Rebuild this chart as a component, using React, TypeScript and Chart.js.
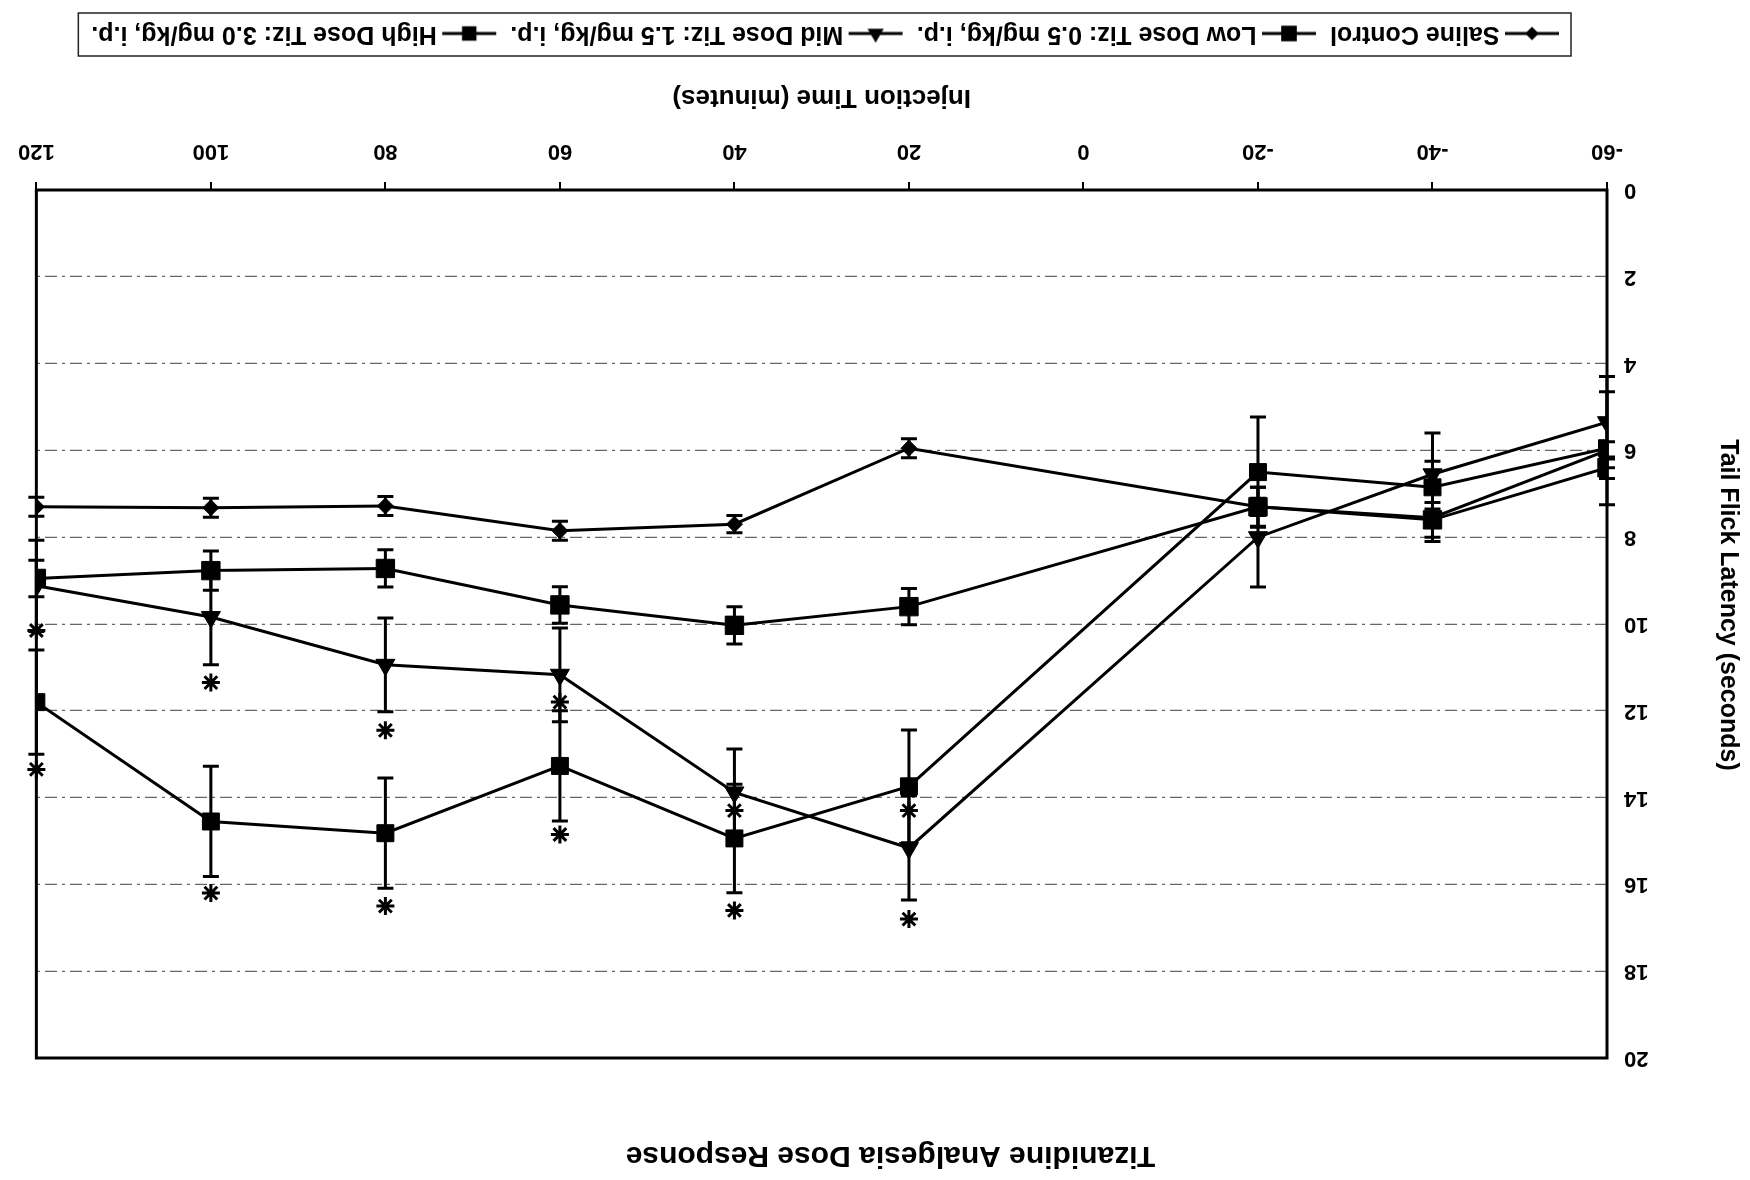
import React, { useEffect, useRef } from "react";
import { Chart, registerables } from "chart.js";

Chart.register(...registerables);

// ---- data ----
const injectionTimes = [-60, -40, -20, 20, 40, 60, 80, 100, 120];

const salineMeans = [6.0, 7.55, 7.3, 5.95, 7.7, 7.85, 7.28, 7.32, 7.3];
const salineErrors = [0.2, 0.2, 0.2, 0.22, 0.2, 0.22, 0.22, 0.22, 0.22];

const lowMeans = [6.4, 7.6, 7.3, 9.6, 10.03, 9.56, 8.72, 8.77, 8.95];
const lowErrors = [0.25, 0.4, 0.45, 0.42, 0.43, 0.42, 0.43, 0.45, 0.42];

const midMeans = [5.35, 6.55, 8.0, 15.16, 13.88, 11.17, 10.94, 9.84, 9.12];
const midErrors = [1.05, 0.3, 1.15, 1.2, 1.0, 1.08, 1.08, 1.1, 1.05];

const highMeans = [5.95, 6.85, 6.5, 13.74, 14.94, 13.27, 14.82, 14.55, 11.8];
const highErrors = [1.3, 1.25, 1.27, 1.3, 1.25, 1.27, 1.27, 1.27, 1.2];

const starTimes = [20, 40, 60, 80, 100, 120];
const midStars = [14.3, 14.3, 11.8, 12.45, 11.35, 10.15];
const highStars = [16.8, 16.6, 14.85, 16.5, 16.2, 13.35];

const seriesLabels = [
  "Saline Control",
  "Low Dose Tiz: 0.5 mg/kg, i.p.",
  "Mid Dose Tiz: 1.5 mg/kg, i.p.",
  "High Dose Tiz: 3.0 mg/kg, i.p.",
];
const seriesMarkers = ["rectRot", "rect", "triangle", "rect"];
const seriesRadii = [8, 13, 11, 12];

const xMin = -60;
const xMax = 120;
const xStep = 20;
const yMin = 0;
const yMax = 20;
const yStep = 2;

const chartTitle = "Tizanidine Analgesia Dose Response";
const xTitle = "Injection Time (minutes)";
const yTitle = "Tail Flick Latency (seconds)";

const FONT = "'Liberation Sans', Arial, Helvetica, sans-serif";

function drawMarker(g: CanvasRenderingContext2D, style: string, r: number, cx: number, cy: number) {
  g.beginPath();
  if (style === "rect") {
    const s = Math.SQRT1_2 * r;
    g.rect(cx - s, cy - s, 2 * s, 2 * s);
  } else if (style === "rectRot") {
    g.moveTo(cx - r, cy);
    g.lineTo(cx, cy - r);
    g.lineTo(cx + r, cy);
    g.lineTo(cx, cy + r);
    g.closePath();
  } else if (style === "triangle") {
    const a = (2 * Math.PI) / 3;
    g.moveTo(cx, cy - r);
    g.lineTo(cx + Math.sin(a) * r, cy - Math.cos(a) * r);
    g.lineTo(cx + Math.sin(2 * a) * r, cy - Math.cos(2 * a) * r);
    g.closePath();
  }
  g.fill();
}

const ICON_W = 58;

function makeIcon(style: string, r: number) {
  const c = document.createElement("canvas");
  c.width = ICON_W;
  c.height = 28;
  const g = c.getContext("2d")!;
  g.strokeStyle = "#000";
  g.fillStyle = "#000";
  g.lineWidth = 3;
  g.beginPath();
  g.moveTo(2, 14);
  g.lineTo(ICON_W - 2, 14);
  g.stroke();
  drawMarker(g, style, r * 0.85, ICON_W / 2, 14);
  return c;
}

const errorSets = [salineErrors, lowErrors, midErrors, highErrors];

const errorBarPlugin = {
  id: "errorBars",
  beforeDatasetsDraw(chart: any) {
    const { ctx } = chart;
    const xs = chart.scales.x;
    const ys = chart.scales.y;
    ctx.save();
    ctx.strokeStyle = "#000";
    ctx.lineWidth = 3;
    errorSets.forEach((errs, di) => {
      const ds = chart.data.datasets[di];
      ds.data.forEach((pt: any, i: number) => {
        const e = errs[i];
        const px = xs.getPixelForValue(pt.x);
        const y1 = ys.getPixelForValue(pt.y - e);
        const y2 = ys.getPixelForValue(pt.y + e);
        ctx.beginPath();
        ctx.moveTo(px, y1);
        ctx.lineTo(px, y2);
        ctx.moveTo(px - 8, y1);
        ctx.lineTo(px + 8, y1);
        ctx.moveTo(px - 8, y2);
        ctx.lineTo(px + 8, y2);
        ctx.stroke();
      });
    });
    ctx.restore();
  },
};

const framePlugin = {
  id: "frame",
  afterDatasetsDraw(chart: any) {
    const { ctx, chartArea: a } = chart;
    ctx.save();
    ctx.strokeStyle = "#000";
    ctx.lineWidth = 3;
    ctx.strokeRect(a.left, a.top, a.right - a.left, a.bottom - a.top);
    ctx.restore();
  },
  afterDraw(chart: any) {
    const { ctx, chartArea: a } = chart;
    // y-axis title
    ctx.save();
    ctx.fillStyle = "#000";
    ctx.font = "bold 25px " + FONT;
    ctx.textAlign = "center";
    ctx.textBaseline = "middle";
    ctx.translate(22, (a.top + a.bottom) / 2 + 19);
    ctx.rotate(-Math.PI / 2);
    ctx.fillText(yTitle, 0, 0);
    ctx.restore();

    const lg = chart.legend;
    if (!lg || !lg.legendHitBoxes || !lg.legendHitBoxes.length) return;
    const boxes = lg.legendHitBoxes;
    let minX = Infinity;
    let maxX = -Infinity;
    boxes.forEach((b: any) => {
      minX = Math.min(minX, b.left);
      maxX = Math.max(maxX, b.left + b.width);
    });
    ctx.save();
    ctx.strokeStyle = "#222";
    ctx.lineWidth = 1.5;
    ctx.strokeRect(minX - 19, lg.top + 11, maxX - minX + 32, 43);
    ctx.restore();
  },
};

export default function App() {
  const ref = useRef<HTMLCanvasElement | null>(null);

  useEffect(() => {
    if (!ref.current) return;
    const means = [salineMeans, lowMeans, midMeans, highMeans];
    const icons = seriesMarkers.map((m, i) => makeIcon(m, seriesRadii[i]));

    const datasets: any[] = means.map((arr, i) => ({
      type: "line",
      label: seriesLabels[i],
      data: injectionTimes.map((t, j) => ({ x: t, y: arr[j] })),
      borderColor: "#000",
      backgroundColor: "#000",
      borderWidth: 3,
      pointStyle: seriesMarkers[i],
      pointRadius: seriesRadii[i],
      pointBackgroundColor: "#000",
      pointBorderColor: "#000",
      pointBorderWidth: 1,
      tension: 0,
      fill: false,
    }));
    [midStars, highStars].forEach((arr, k) => {
      datasets.push({
        type: "scatter",
        label: "sig" + k,
        data: starTimes.map((t, j) => ({ x: t, y: arr[j] })),
        showLine: false,
        pointStyle: "star",
        pointRadius: 9,
        pointBorderWidth: 3,
        pointBorderColor: "#000",
        pointBackgroundColor: "#000",
        clip: false,
      });
    });

    const chart = new Chart(ref.current, {
      type: "line",
      data: { datasets },
      plugins: [errorBarPlugin, framePlugin],
      options: {
        responsive: false,
        maintainAspectRatio: false,
        animation: false,
        devicePixelRatio: 1,
        layout: { padding: { left: 0, right: 31, top: 0, bottom: 11 } },
        plugins: {
          tooltip: { enabled: false },
          title: {
            display: true,
            text: chartTitle,
            color: "#000",
            font: { family: FONT, size: 30, weight: "bold" },
            padding: { top: 7, bottom: 79 },
          },
          legend: {
            display: true,
            position: "bottom",
            fullSize: false,
            labels: {
              color: "#000",
              font: { family: FONT, size: 25, weight: "bold" },
              usePointStyle: true,
              pointStyleWidth: 40,
              padding: 21,
              generateLabels: () =>
                seriesLabels.map((t, i) => ({
                  text: t,
                  datasetIndex: i,
                  pointStyle: icons[i],
                  fillStyle: "#000",
                  strokeStyle: "#000",
                  lineWidth: 0,
                  hidden: false,
                  fontColor: "#000",
                })),
            },
          },
        },
        scales: {
          x: {
            type: "linear",
            min: xMin,
            max: xMax,
            afterFit: (s: any) => {
              s.height = 123;
            },
            ticks: {
              stepSize: xStep,
              color: "#000",
              padding: 18,
              font: { family: FONT, size: 22, weight: "bold" },
            },
            grid: {
              drawOnChartArea: false,
              drawTicks: true,
              tickLength: 8,
              color: "#000",
              lineWidth: 2,
            },
            border: { display: false },
            title: {
              display: true,
              text: xTitle,
              color: "#000",
              font: { family: FONT, size: 26, weight: "bold" },
              padding: { top: 0, bottom: 15 },
            },
          },
          y: {
            type: "linear",
            min: yMin,
            max: yMax,
            afterFit: (s: any) => {
              s.width = 143;
            },
            ticks: {
              stepSize: yStep,
              color: "#000",
              padding: 17,
              font: { family: FONT, size: 22, weight: "bold" },
            },
            grid: {
              drawTicks: false,
              color: "#666",
              lineWidth: 1.3,
            },
            border: { display: false, dash: [12, 5, 3, 5] },
            title: { display: false },
          },
        },
      } as any,
    });
    return () => chart.destroy();
  }, []);

  return (
    <div
      style={{
        position: "fixed",
        left: 0,
        top: 0,
        width: 1750,
        height: 1180,
        background: "#fff",
        transform: "rotate(180deg)",
      }}
    >
      <canvas ref={ref} width={1750} height={1180} style={{ display: "block", width: 1750, height: 1180 }} />
    </div>
  );
}
